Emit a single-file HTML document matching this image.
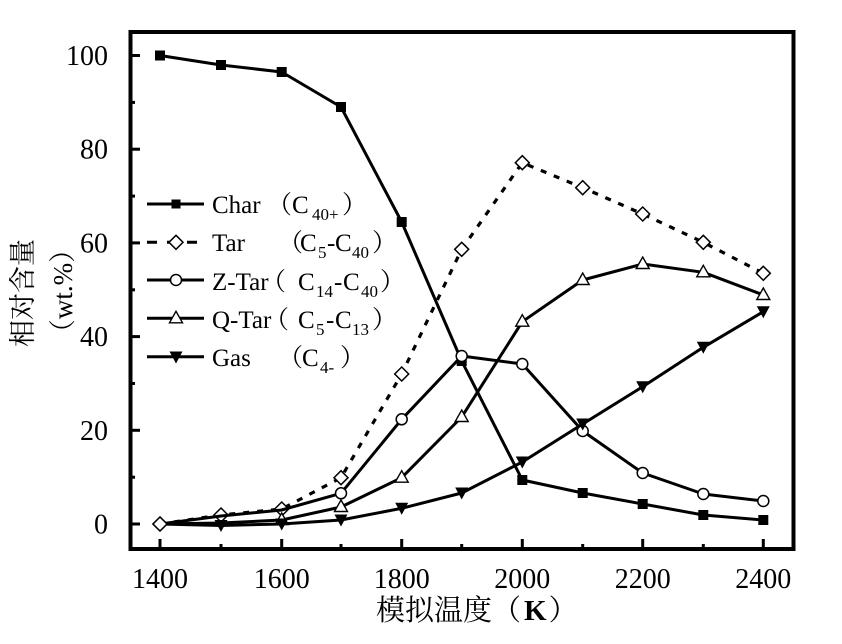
<!DOCTYPE html>
<html><head><meta charset="utf-8"><style>
html,body{margin:0;padding:0;background:#fff;}
svg{display:block;}
text{font-family:"Liberation Serif","Noto Serif CJK SC",serif;fill:#000;}
.cjk{font-family:"Liberation Serif","Noto Serif CJK SC","Noto Sans CJK SC",serif;}
</style></head><body>
<svg width="842" height="644" viewBox="0 0 842 644" xmlns="http://www.w3.org/2000/svg">
<rect x="0" y="0" width="842" height="644" fill="#fff"/>
<!-- frame -->
<rect x="130.5" y="32" width="663" height="517" fill="none" stroke="#000" stroke-width="4"/>
<!-- left ticks -->
<g stroke="#000" stroke-width="3">
<line x1="130" y1="524" x2="140" y2="524"/>
<line x1="130" y1="430.3" x2="140" y2="430.3"/>
<line x1="130" y1="336.6" x2="140" y2="336.6"/>
<line x1="130" y1="242.9" x2="140" y2="242.9"/>
<line x1="130" y1="149.2" x2="140" y2="149.2"/>
<line x1="130" y1="55.5" x2="140" y2="55.5"/>
<line x1="130" y1="477.2" x2="135" y2="477.2"/>
<line x1="130" y1="383.5" x2="135" y2="383.5"/>
<line x1="130" y1="289.8" x2="135" y2="289.8"/>
<line x1="130" y1="196.1" x2="135" y2="196.1"/>
<line x1="130" y1="102.4" x2="135" y2="102.4"/>
<!-- bottom ticks -->
<line x1="160" y1="549" x2="160" y2="539"/>
<line x1="281.7" y1="549" x2="281.7" y2="539"/>
<line x1="401.7" y1="549" x2="401.7" y2="539"/>
<line x1="522.3" y1="549" x2="522.3" y2="539"/>
<line x1="642.7" y1="549" x2="642.7" y2="539"/>
<line x1="763.3" y1="549" x2="763.3" y2="539"/>
<line x1="221" y1="549" x2="221" y2="544"/>
<line x1="341" y1="549" x2="341" y2="544"/>
<line x1="461.7" y1="549" x2="461.7" y2="544"/>
<line x1="582.7" y1="549" x2="582.7" y2="544"/>
<line x1="703.3" y1="549" x2="703.3" y2="544"/>
</g>
<!-- y tick labels -->
<g font-size="28" text-anchor="end">
<text x="108" y="533.5">0</text>
<text x="108" y="439.8">20</text>
<text x="108" y="346.1">40</text>
<text x="108" y="252.4">60</text>
<text x="108" y="158.7">80</text>
<text x="108" y="65">100</text>
</g>
<!-- x tick labels -->
<g font-size="28" text-anchor="middle">
<text x="160" y="588">1400</text>
<text x="281.7" y="588">1600</text>
<text x="401.7" y="588">1800</text>
<text x="522.3" y="588">2000</text>
<text x="642.7" y="588">2200</text>
<text x="763.3" y="588">2400</text>
</g>
<!-- x title -->
<text class="cjk" x="376" y="620" font-size="29">模拟温度（<tspan font-weight="bold" dx="3">K</tspan><tspan dx="2">）</tspan></text>
<!-- y title -->
<text class="cjk" font-size="27" text-anchor="middle" transform="translate(32,293) rotate(-90)">相对含量</text>
<text class="cjk" font-size="27" text-anchor="middle" transform="translate(72,291) rotate(-90)">（wt.%）</text>

<!-- Char -->
<polyline fill="none" stroke="#000" stroke-width="3" stroke-linejoin="round" points="160,55.5 221,65 281.7,72 341,107 401.7,222 461.7,361 522.3,480 582.7,493 642.7,504 703.3,515 763.3,520"/>
<g fill="#000">
<rect x="155" y="50.5" width="10" height="10"/>
<rect x="216" y="60" width="10" height="10"/>
<rect x="276.7" y="67" width="10" height="10"/>
<rect x="336" y="102" width="10" height="10"/>
<rect x="396.7" y="217" width="10" height="10"/>
<rect x="456.7" y="356" width="10" height="10"/>
<rect x="517.3" y="475" width="10" height="10"/>
<rect x="577.7" y="488" width="10" height="10"/>
<rect x="637.7" y="499" width="10" height="10"/>
<rect x="698.3" y="510" width="10" height="10"/>
<rect x="758.3" y="515" width="10" height="10"/>
</g>
<!-- Tar -->
<polyline fill="none" stroke="#000" stroke-width="3.2" stroke-dasharray="6 8" points="160,524 221,515 281.7,509 341,477.7 401.7,374 461.7,249.3 522.3,162.7 582.7,187.7 642.7,214 703.3,242.3 763.3,273.3"/>
<g fill="#fff" stroke="#000" stroke-width="1.5">
<path d="M160,517 l7,7 l-7,7 l-7,-7z"/>
<path d="M221,508 l7,7 l-7,7 l-7,-7z"/>
<path d="M281.7,502 l7,7 l-7,7 l-7,-7z"/>
<path d="M341,470.7 l7,7 l-7,7 l-7,-7z"/>
<path d="M401.7,367 l7,7 l-7,7 l-7,-7z"/>
<path d="M461.7,242.3 l7,7 l-7,7 l-7,-7z"/>
<path d="M522.3,155.7 l7,7 l-7,7 l-7,-7z"/>
<path d="M582.7,180.7 l7,7 l-7,7 l-7,-7z"/>
<path d="M642.7,207 l7,7 l-7,7 l-7,-7z"/>
<path d="M703.3,235.3 l7,7 l-7,7 l-7,-7z"/>
<path d="M763.3,266.3 l7,7 l-7,7 l-7,-7z"/>
</g>
<!-- Z-Tar -->
<polyline fill="none" stroke="#000" stroke-width="3" stroke-linejoin="round" points="160,524 221,516 281.7,510 341,493.3 401.7,419.3 461.7,356 522.3,364 582.7,431 642.7,473 703.3,494 763.3,501"/>
<g fill="#fff" stroke="#000" stroke-width="1.5">
<circle cx="341" cy="493.3" r="5.5"/>
<circle cx="401.7" cy="419.3" r="5.5"/>
<circle cx="461.7" cy="356" r="5.5"/>
<circle cx="522.3" cy="364" r="5.5"/>
<circle cx="582.7" cy="431" r="5.5"/>
<circle cx="642.7" cy="473" r="5.5"/>
<circle cx="703.3" cy="494" r="5.5"/>
<circle cx="763.3" cy="501" r="5.5"/>
</g>
<!-- Q-Tar -->
<polyline fill="none" stroke="#000" stroke-width="3" stroke-linejoin="round" points="160,524 221,523 281.7,520 341,507 401.7,477.7 461.7,417 522.3,321.7 582.7,280 642.7,264 703.3,272.3 763.3,295"/>
<g fill="#fff" stroke="#000" stroke-width="1.4">
<path d="M281.7,513 l6.5,11.5 l-13,0z"/>
<path d="M341,500 l6.5,11.5 l-13,0z"/>
<path d="M401.7,470.7 l6.5,11.5 l-13,0z"/>
<path d="M461.7,410 l6.5,11.5 l-13,0z"/>
<path d="M522.3,314.7 l6.5,11.5 l-13,0z"/>
<path d="M582.7,273 l6.5,11.5 l-13,0z"/>
<path d="M642.7,257 l6.5,11.5 l-13,0z"/>
<path d="M703.3,265.3 l6.5,11.5 l-13,0z"/>
<path d="M763.3,288 l6.5,11.5 l-13,0z"/>
</g>
<!-- Gas -->
<polyline fill="none" stroke="#000" stroke-width="3" stroke-linejoin="round" points="160,524 221,525.5 281.7,524 341,520 401.7,508.3 461.7,493 522.3,462 582.7,424 642.7,386.7 703.3,347.3 763.3,311.7"/>
<g fill="#000">
<path d="M214.5,520 l13,0 l-6.5,12z"/>
<path d="M275.2,518.5 l13,0 l-6.5,12z"/>
<path d="M334.5,514.5 l13,0 l-6.5,12z"/>
<path d="M395.2,502.8 l13,0 l-6.5,12z"/>
<path d="M455.2,487.5 l13,0 l-6.5,12z"/>
<path d="M515.8,456.5 l13,0 l-6.5,12z"/>
<path d="M576.2,418.5 l13,0 l-6.5,12z"/>
<path d="M636.2,381.2 l13,0 l-6.5,12z"/>
<path d="M696.8,341.8 l13,0 l-6.5,12z"/>
<path d="M756.8,306.2 l13,0 l-6.5,12z"/>
</g>
<!-- diamond at 1400 on top -->
<path d="M160,517 l7,7 l-7,7 l-7,-7z" fill="#fff" stroke="#000" stroke-width="1.5"/>

<!-- Legend -->
<g stroke="#000" stroke-width="3">
<line x1="147" y1="204" x2="204" y2="204"/>
<line x1="147" y1="242.3" x2="204" y2="242.3" stroke-dasharray="10 10"/>
<line x1="147" y1="280" x2="204" y2="280"/>
<line x1="147" y1="318.3" x2="204" y2="318.3"/>
<line x1="147" y1="356.7" x2="204" y2="356.7"/>
</g>
<rect x="171.5" y="199.5" width="9" height="9" fill="#000"/>
<path d="M176,235.3 l7,7 l-7,7 l-7,-7z" fill="#fff" stroke="#000" stroke-width="1.5"/>
<circle cx="176" cy="280" r="5.5" fill="#fff" stroke="#000" stroke-width="1.5"/>
<path d="M176,311.3 l6.5,11.5 l-13,0z" fill="#fff" stroke="#000" stroke-width="1.4"/>
<path d="M169.5,351.5 l13,0 l-6.5,12z" fill="#000"/>

<g font-size="25">
<text x="212" y="213">Char</text>
<text class="cjk" x="267" y="213">（</text>
<text x="292" y="213">C</text>
<text x="312" y="220" font-size="17">40+</text>
<text class="cjk" x="342" y="213">）</text>

<text x="212" y="251">Tar</text>
<text class="cjk" x="278" y="251">（</text>
<text x="300" y="251">C</text>
<text x="318" y="258" font-size="17">5</text>
<text x="327" y="251">-</text>
<text x="335" y="251">C</text>
<text x="352" y="258" font-size="17">40</text>
<text class="cjk" x="372" y="251">）</text>

<text x="212" y="290">Z-Tar</text>
<text class="cjk" x="261" y="290">（</text>
<text x="298" y="290">C</text>
<text x="316" y="297" font-size="17">14</text>
<text x="334" y="290">-</text>
<text x="343" y="290">C</text>
<text x="361" y="297" font-size="17">40</text>
<text class="cjk" x="380" y="290">）</text>

<text x="212" y="328">Q-Tar</text>
<text class="cjk" x="264" y="328">（</text>
<text x="298" y="328">C</text>
<text x="316" y="335" font-size="17">5</text>
<text x="326" y="328">-</text>
<text x="335" y="328">C</text>
<text x="352" y="335" font-size="17">13</text>
<text class="cjk" x="372" y="328">）</text>

<text x="212" y="366">Gas</text>
<text class="cjk" x="278" y="366">（</text>
<text x="302" y="366">C</text>
<text x="320" y="373" font-size="17">4-</text>
<text class="cjk" x="340" y="366">）</text>
</g>
</svg>
</body></html>
